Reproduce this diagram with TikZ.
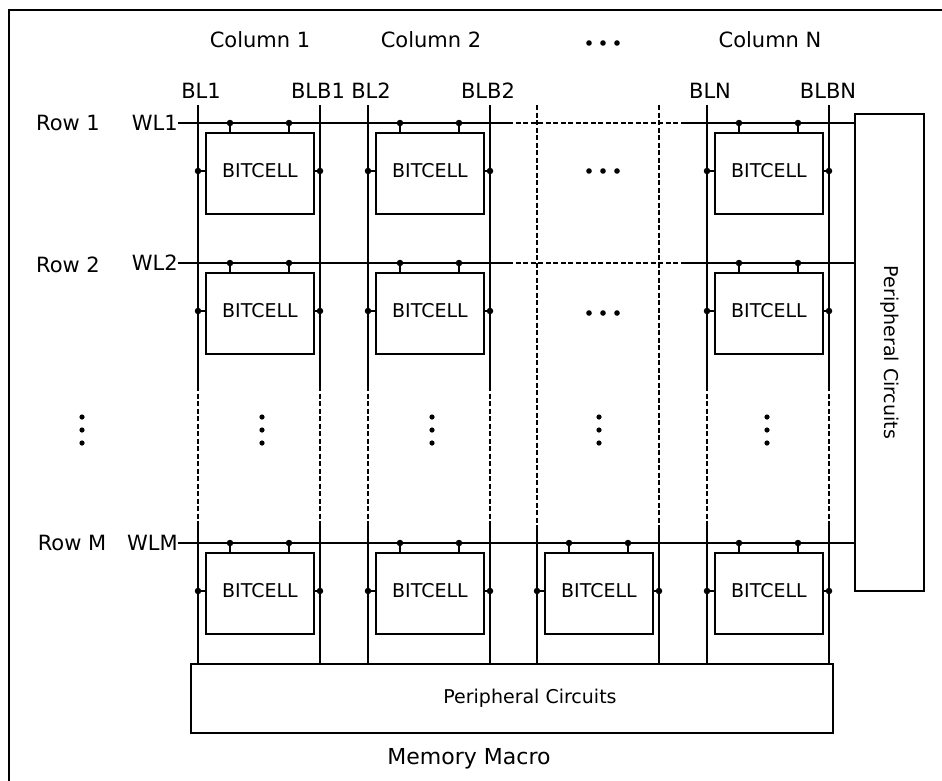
\documentclass[tikz,border=0pt]{standalone}
\usepackage{fontspec}
\setmainfont{DejaVu Sans}
\begin{document}
\begin{tikzpicture}[x=1pt,y=-1pt,
  wire/.style={line width=1.3pt},
  dwire/.style={line width=1.3pt, dash pattern=on 5pt off 2.5pt},
  cellbox/.style={draw, line width=1.8pt, minimum width=108pt, minimum height=81pt,
    inner sep=0pt, anchor=north west, text depth=6pt, font=\fontsize{19}{22}\selectfont},
  perbox/.style={draw, line width=1.4pt, inner sep=0pt, font=\fontsize{19}{22}\selectfont},
  lbl/.style={font=\fontsize{21}{24}\selectfont, inner sep=0pt},
  jdot/.style={circle, fill, inner sep=0pt, minimum size=6.5pt},
  edot/.style={circle, fill, inner sep=0pt, minimum size=6.5pt},
]
\useasboundingbox (0,0) rectangle (942,780);
% outer frame (cropped on right and bottom)
\draw[line width=1.5pt] (9,800) -- (9,10) -- (960,10);

% peripheral blocks
\node[perbox, minimum width=642pt, minimum height=69pt] (pbot) at (512,698.5) {};
\node[lbl, font=\fontsize{19}{22}\selectfont] (pbotlbl) at (530,698) {Peripheral Circuits};
\node[perbox, rotate=-90, minimum width=477pt, minimum height=69pt] (pright) at (889.5,352.5) {Peripheral Circuits};
\node[lbl, font=\fontsize{22}{26}\selectfont] (mm) at (469,759) {Memory Macro};

% column labels
\node[lbl] (col1) at (260,40) {Column 1};
\node[lbl] (col2) at (431,40) {Column 2};
\node[lbl] (colN) at (770,40) {Column N};
\foreach \dx in {-14,0,14} \fill (603+\dx,43) circle (2.8pt);

% bitline labels
\node[lbl] (lbl1) at (201,91) {BL1};
\node[lbl] (lblb1) at (318,91) {BLB1};
\node[lbl] (lbl2) at (371,91) {BL2};
\node[lbl] (lblb2) at (488,91) {BLB2};
\node[lbl] (lbln) at (710,91) {BLN};
\node[lbl] (lblbn) at (828,91) {BLBN};

% row labels
\node[lbl] (r1) at (68,123) {Row 1};
\node[lbl] (r2) at (68,265) {Row 2};
\node[lbl] (rm) at (72,543) {Row M};
\node[lbl, anchor=east] (wl1) at (178,123) {WL1};
\node[lbl, anchor=east] (wl2) at (178,263) {WL2};
\node[lbl, anchor=east] (wlm) at (178,543) {WLM};

% vertical bit lines: solid columns 1,2,N
\foreach \x [count=\i] in {198,320,368,490,707,829} {
  \coordinate (v\i a) at (\x,105);
  \coordinate (v\i b) at (\x,386);
  \coordinate (v\i c) at (\x,525);
  \draw[wire] (v\i a) -- (v\i b);
  \draw[dwire] (v\i b) -- (v\i c);
  \draw[wire] (v\i c) -- (v\i c |- pbot.north);
}
% column 3 (dashed)
\foreach \x [count=\i] in {537,659} {
  \coordinate (d\i a) at (\x,105);
  \coordinate (d\i c) at (\x,525);
  \draw[dwire] (d\i a) -- (d\i c);
  \draw[wire] (d\i c) -- (d\i c |- pbot.north);
}

% word lines
\foreach \r/\y in {1/123,2/263} {
  \coordinate (w\r s) at (wl\r.east);
  \coordinate (w\r a) at (508,\y);
  \coordinate (w\r b) at (686,\y);
  \draw[wire] (w\r s) -- (w\r a);
  \draw[dwire] (w\r a) -- (w\r b);
  \draw[wire] (w\r b) -- (w\r b -| pright.south);
}
\coordinate (wms) at (wlm.east);
\draw[wire] (wms) -- (wms -| pright.south);

% bitcells
\foreach \r/\y in {1/123,2/263,m/543} {
  \foreach \c/\x in {1/198,2/368,n/707} {
    \node[cellbox] (cell\r\c) at (\x+7,\y+9) {BITCELL};
    \node[jdot] (ta\r\c) at (\x+32,\y) {};
    \node[jdot] (tb\r\c) at (\x+91,\y) {};
    \draw[wire] (ta\r\c) -- (ta\r\c |- cell\r\c.north);
    \draw[wire] (tb\r\c) -- (tb\r\c |- cell\r\c.north);
    \node[edot] (bl\r\c) at (\x,\y+48) {};
    \node[edot] (blb\r\c) at (\x+122,\y+48) {};
    \draw[wire] (bl\r\c) -- (bl\r\c -| cell\r\c.west);
    \draw[wire] (blb\r\c) -- (blb\r\c -| cell\r\c.east);
  }
}
% column 3, row M
\node[cellbox] (cellm3) at (544,552) {BITCELL};
\node[jdot] (tam3) at (569,543) {};
\node[jdot] (tbm3) at (628,543) {};
\draw[wire] (tam3) -- (tam3 |- cellm3.north);
\draw[wire] (tbm3) -- (tbm3 |- cellm3.north);
\node[edot] (blm3) at (537,591) {};
\node[edot] (blbm3) at (659,591) {};
\draw[wire] (blm3) -- (blm3 -| cellm3.west);
\draw[wire] (blbm3) -- (blbm3 -| cellm3.east);

% horizontal ellipses in column 3
\foreach \y in {171,313} \foreach \dx in {-14,0,14} \fill (603+\dx,\y) circle (2.8pt);
% vertical ellipses
\foreach \x in {82,262,432,599,767} \foreach \dy in {-13,0,13} \fill (\x,430+\dy) circle (2.6pt);
\end{tikzpicture}
\end{document}
